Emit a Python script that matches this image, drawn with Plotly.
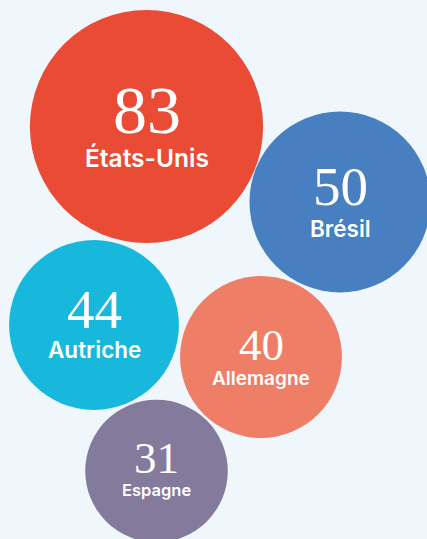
import plotly.graph_objects as go
import math

# ---- data ----
countries = ["États-Unis", "Brésil", "Autriche", "Allemagne", "Espagne"]
values = [83, 50, 44, 40, 31]
# packed-bubble layout positions (data units of the 427x539 canvas)
pos_x = [146.5, 340, 94, 261, 156.5]
pos_y = [126.5, 202, 325, 357, 471]
colors = ["#e94b35", "#477fc0", "#17b8dc", "#ef7e66", "#847a9b"]

BG = "#eff7fc"
K = 12.8  # px radius per sqrt(value)

fig = go.Figure()
fig.add_trace(go.Scatter(
    x=pos_x, y=pos_y, mode="markers",
    marker=dict(size=[math.sqrt(v) for v in values], sizemode="diameter",
                sizeref=1 / (2 * K), color=colors, opacity=1,
                line=dict(width=0)),
    hoverinfo="skip", showlegend=False,
))

num_sizes = [68, 55, 55, 45, 45]
lab_sizes = [24.5, 22.5, 22.5, 19, 16.5]
num_shift = [-16.5, -15.5, -15.5, -12, -13.5]
lab_shift = [31, 26, 24, 21, 19]

for i, (c, v) in enumerate(zip(countries, values)):
    fig.add_annotation(x=pos_x[i], y=pos_y[i], text=str(v), showarrow=False,
                       xref="x", yref="y", yshift=-num_shift[i],
                       font=dict(family="Liberation Serif", size=num_sizes[i], color="white"))
    fig.add_annotation(x=pos_x[i], y=pos_y[i], text=c, showarrow=False,
                       xref="x", yref="y", yshift=-lab_shift[i],
                       font=dict(family="Inter", size=lab_sizes[i], color="white", weight=600))

fig.update_xaxes(range=[0, 427], visible=False, fixedrange=True)
fig.update_yaxes(range=[539, 0], visible=False, fixedrange=True)
fig.update_layout(width=427, height=539, margin=dict(l=0, r=0, t=0, b=0),
                  paper_bgcolor=BG, plot_bgcolor=BG)

fig.write_html("out.html", config={"displayModeBar": False})
with open("out.html", encoding="utf-8") as f:
    html = f.read()
html = html.replace("<head>", "<head><style>html,body{margin:0;padding:0;overflow:hidden;background:%s}</style>" % BG, 1)
with open("out.html", "w", encoding="utf-8") as f:
    f.write(html)
